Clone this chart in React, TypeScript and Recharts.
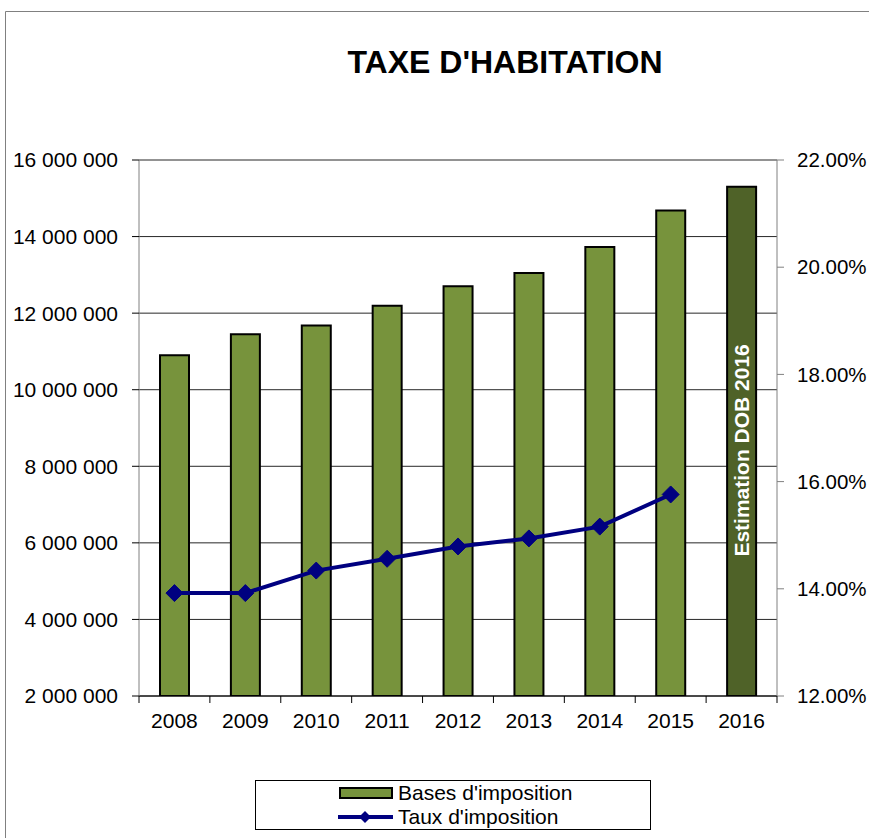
import React from 'react';
import { ComposedChart, Bar, Line, XAxis, YAxis, CartesianGrid, Cell, LabelList } from 'recharts';

const title = "TAXE D'HABITATION";
const years = ['2008', '2009', '2010', '2011', '2012', '2013', '2014', '2015', '2016'];
const bases = [10900000, 11450000, 11680000, 12190000, 12700000, 13050000, 13730000, 14680000, 15300000];
const taux: (number | null)[] = [0.1392, 0.1392, 0.1434, 0.1456, 0.1479, 0.1494, 0.1516, 0.1576, null];
const barColors = ['#77933C', '#77933C', '#77933C', '#77933C', '#77933C', '#77933C', '#77933C', '#77933C', '#4F6228'];
const notes: (string | null)[] = [null, null, null, null, null, null, null, null, 'Estimation DOB 2016'];
const leftTicks = [2000000, 4000000, 6000000, 8000000, 10000000, 12000000, 14000000, 16000000];
const rightTicks = [0.12, 0.14, 0.16, 0.18, 0.2, 0.22];
const seriesNames = ["Bases d'imposition", "Taux d'imposition"];

const data = years.map((year, i) => ({ year, bases: bases[i], taux: taux[i], note: notes[i] }));

const W = 869;
const H = 838;
const LEFT_W = 139;
const RIGHT_W = 92;
const FONT = "'Liberation Sans', Arial, sans-serif";
const HALF_BAND = (W - LEFT_W - RIGHT_W) / years.length / 2;

const fmtLeft = (n: number) => String(n).replace(/\B(?=(\d{3})+(?!\d))/g, ' ');
const fmtRight = (v: number) => (v * 100).toFixed(2) + '%';

const Diamond = (props: any) => {
  const { cx, cy } = props;
  if (cx == null || cy == null || props.value == null) return null;
  const s = 8.5;
  return <polygon points={`${cx},${cy - s} ${cx + s},${cy} ${cx},${cy + s} ${cx - s},${cy}`} fill="#000080" stroke="#000080" />;
};

const XTick = (props: any) => {
  const { x, y, payload, index } = props;
  return (
    <g>
      <line x1={x - HALF_BAND} x2={x - HALF_BAND} y1={y} y2={y + 7} stroke="#000" />
      {index === years.length - 1 && <line x1={x + HALF_BAND} x2={x + HALF_BAND} y1={y} y2={y + 7} stroke="#000" />}
      <text x={x} y={y + 32} textAnchor="middle" fontSize={21} fill="#000" fontFamily={FONT}>{payload.value}</text>
    </g>
  );
};

const NoteLabel = (props: any) => {
  const { x, y, width, height, value } = props;
  if (!value) return null;
  const cx = x + width / 2;
  const cy = y + height / 2 + 9;
  return (
    <text x={cx} y={cy} transform={`rotate(-90, ${cx}, ${cy})`} textAnchor="middle" dominantBaseline="central"
      fill="#fff" fontWeight="bold" fontSize={21} fontFamily={FONT}>{value}</text>
  );
};

export default function App() {
  return (
    <div style={{ position: 'absolute', left: 0, top: 0, width: W, height: H, overflow: 'hidden', background: '#fff', fontFamily: FONT }}>
      <ComposedChart width={W} height={H} data={data} margin={{ top: 160, right: 0, bottom: 102, left: 0 }}>
        <CartesianGrid yAxisId="left" vertical={false} stroke="#000" strokeOpacity={0.85} />
        <XAxis dataKey="year" height={40} tickLine={false} tickSize={0} tickMargin={0} axisLine={{ stroke: '#000' }} tick={<XTick />} interval={0} />
        <YAxis yAxisId="left" orientation="left" width={LEFT_W} domain={[2000000, 16000000]} ticks={leftTicks}
          tickFormatter={fmtLeft} tick={{ fill: '#000', fontSize: 21, fontFamily: FONT }} axisLine={{ stroke: '#808080' }}
          tickLine={{ stroke: '#000' }} tickSize={7} tickMargin={14} allowDataOverflow />
        <YAxis yAxisId="right" orientation="right" width={RIGHT_W} domain={[0.12, 0.22]} ticks={rightTicks}
          tickFormatter={fmtRight} tick={{ fill: '#000', fontSize: 20.5, fontFamily: FONT }} axisLine={{ stroke: '#808080' }}
          tickLine={{ stroke: '#808080' }} tickSize={7} tickMargin={13} allowDataOverflow />
        <Bar yAxisId="left" dataKey="bases" barSize={29} stroke="#000" strokeWidth={2} isAnimationActive={false}>
          {data.map((d, i) => <Cell key={d.year} fill={barColors[i]} />)}
          <LabelList dataKey="note" content={<NoteLabel />} />
        </Bar>
        <Line yAxisId="right" dataKey="taux" stroke="#000080" strokeWidth={4} dot={<Diamond />} activeDot={false} isAnimationActive={false} />
      </ComposedChart>
      <svg width={W} height={H} style={{ position: 'absolute', left: 0, top: 0, pointerEvents: 'none' }}>
        <line x1={5.5} y1={11.5} x2={W} y2={11.5} stroke="#808080" />
        <line x1={5.5} y1={11.5} x2={5.5} y2={H} stroke="#808080" />
        <text x={505} y={73} textAnchor="middle" fontSize={32} fontWeight="bold" fill="#000" fontFamily={FONT}>{title}</text>
        <rect x={255.5} y={780.5} width={395} height={49} fill="#fff" stroke="#000" />
        <rect x={340} y={788} width={52} height={10} fill={barColors[0]} stroke="#000" strokeWidth={2} />
        <text x={398} y={800} fontSize={21} fill="#000" fontFamily={FONT}>{seriesNames[0]}</text>
        <line x1={338} y1={817} x2={393} y2={817} stroke="#000080" strokeWidth={4} />
        <polygon points="365,811 371,817 365,823 359,817" fill="#000080" />
        <text x={398} y={824} fontSize={21} fill="#000" fontFamily={FONT}>{seriesNames[1]}</text>
      </svg>
    </div>
  );
}
